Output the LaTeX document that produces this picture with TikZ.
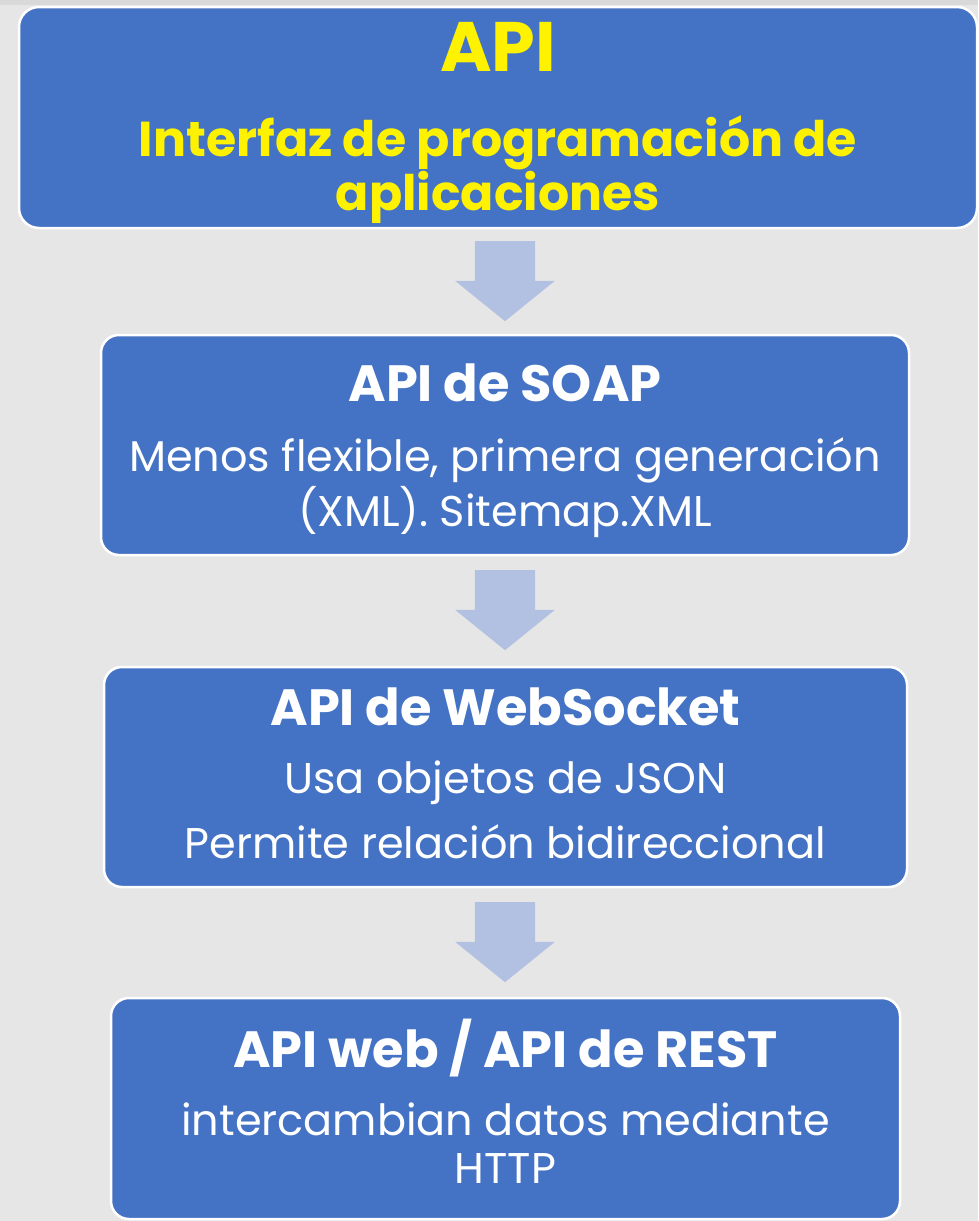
\documentclass[tikz,border=0pt]{standalone}
\usepackage{fontspec}
\setmainfont{Poppins}
\usepackage{tikz}
\usetikzlibrary{shapes.arrows}

\newcommand{\titlefont}{\fontsize{70}{48}\selectfont\bfseries}
\newcommand{\subfont}{\fontsize{49}{48}\selectfont\bfseries}
\newcommand{\headfont}{\fontsize{51}{48}\selectfont\bfseries}
\newcommand{\bodyfont}{\fontsize{43}{48}\selectfont}

\begin{document}
\begin{tikzpicture}[x=1pt, y=-1pt,
 every text node part/.style={align=center},
block/.style={rectangle, inner sep=0pt, rounded corners=18pt, fill=boxblue, draw=white, line width=2.5pt, text=white, font=\bodyfont},
downarrow/.style={single arrow, rotate=270, inner sep=0pt, minimum height=80pt, single arrow head extend=19.5pt, single arrow tip angle=102, fill=arrowblue, draw=none, anchor=tail}]

    \definecolor{bg}{RGB}{231,230,230}
    \definecolor{boxblue}{RGB}{68,114,196}
    \definecolor{arrowblue}{RGB}{178,192,225}

	\fill[bg] (0,0) rectangle (978,1221);
	\fill[gray!30] (0,0) rectangle (978,5);

	\node[block, rounded corners=20pt, minimum width=958pt, minimum height=221pt, text=yellow, font=\subfont] (api) at (498,117.5)
		{\rule{0pt}{60pt}\titlefont API\\[37pt]\subfont Interfaz de programación de\\\subfont aplicaciones};
	\node[block, minimum width=808pt, minimum height=220pt] (soap) at (505,445)
		{\rule{0pt}{49pt}\headfont API de SOAP\\[22pt]\bodyfont Menos flexible, primera generación\\[2pt]\bodyfont (XML). Sitemap.XML};
	\node[block, minimum width=803pt, minimum height=220pt] (socket) at (505.5,777)
		{\headfont API de WebSocket\\[20pt]\bodyfont Usa objetos de JSON\\[17pt]\bodyfont Permite relación bidireccional\rule[-7pt]{0pt}{7pt}};
	\node[block, minimum width=789pt, minimum height=221pt] (rest) at (505.5,1108.5)
		{\headfont API web / API de REST\\[20pt]\bodyfont intercambian datos mediante\\\bodyfont HTTP\rule[-14pt]{0pt}{14pt}};

	\node[downarrow] (a1) at (505,241) {\rule{0pt}{60pt}};
	\node[downarrow] (a2) at (505,570) {\rule{0pt}{60pt}};
	\node[downarrow] (a3) at (505,902) {\rule{0pt}{60pt}};
\end{tikzpicture}
\end{document}
